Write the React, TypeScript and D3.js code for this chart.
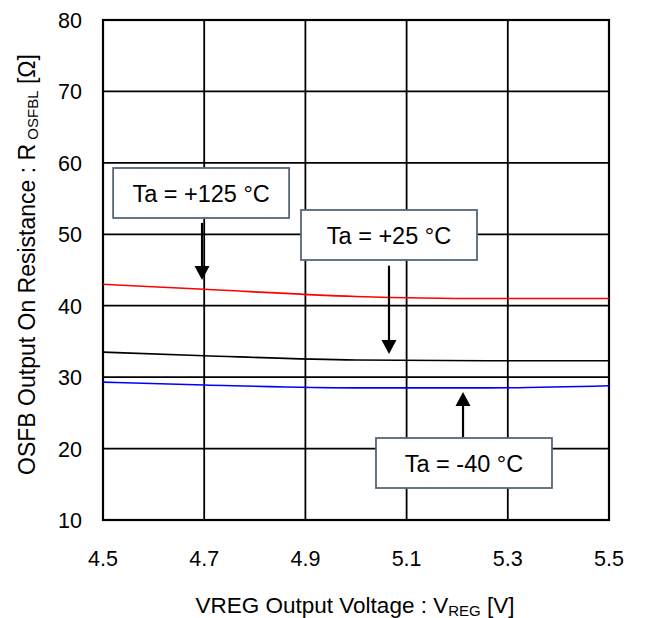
import React from "react";
import * as d3 from "d3";

const xTicks = [4.5, 4.7, 4.9, 5.1, 5.3, 5.5];
const yTicks = [10, 20, 30, 40, 50, 60, 70, 80];

const vreg = [4.5, 4.7, 5.0, 5.26, 5.5];
const r125 = [43.0, 42.3, 41.3, 41.0, 41.0];
const r25 = [33.5, 33.0, 32.4, 32.3, 32.3];
const rm40 = [29.3, 28.9, 28.5, 28.5, 28.8];

const series = [
  { name: "125", values: r125, color: "#ff0000" },
  { name: "25", values: r25, color: "#000000" },
  { name: "-40", values: rm40, color: "#0000ff" },
];

const labels = [
  { text: "Ta = +125 °C", bx: 4.52, by: 59.28, arrowX: 4.6957, from: 51.6, to: 43.6 },
  { text: "Ta = +25 °C", bx: 4.8913, by: 53.4, arrowX: 5.0652, from: 45.6, to: 33.24 },
  { text: "Ta = -40 °C", bx: 5.0395, by: 21.48, arrowX: 5.2115, from: 21.62, to: 27.92 },
];

export default function App() {
  const W = 645, H = 618;
  const m = { left: 103, right: 609, top: 20, bottom: 520 };
  const x = d3.scaleLinear().domain([4.5, 5.5]).range([m.left, m.right]);
  const y = d3.scaleLinear().domain([10, 80]).range([m.bottom, m.top]);
  const line = d3.line<number>().x((_, i) => x(vreg[i])).y((d) => y(d)).curve(d3.curveMonotoneX);
  const font = "Liberation Sans, Arial, sans-serif";
  const boxW = 176, boxH = 50;

  return (
    <svg width={W} height={H} style={{ position: "absolute", left: 0, top: 0 }} fontFamily={font}>
      <rect width={W} height={H} fill="#fff" />
      {yTicks.map((t) => (
        <line key={"h" + t} x1={m.left} x2={m.right} y1={y(t)} y2={y(t)} stroke="#000" strokeWidth={1.8} />
      ))}
      {xTicks.map((t) => (
        <line key={"v" + t} x1={x(t)} x2={x(t)} y1={m.top} y2={m.bottom} stroke="#000" strokeWidth={1.8} />
      ))}
      <rect x={m.left} y={m.top} width={m.right - m.left} height={m.bottom - m.top} fill="none" stroke="#000" strokeWidth={2.2} />
      {series.map((s) => (
        <path key={s.name} d={line(s.values) || ""} fill="none" stroke={s.color} strokeWidth={1.6} />
      ))}
      {labels.map((l) => {
        const bx = x(l.bx), by = y(l.by);
        const ax = x(l.arrowX), y1 = y(l.from), y2 = y(l.to);
        const dir = y2 > y1 ? 1 : -1;
        const headLen = 14, headW = 7.5;
        return (
          <g key={l.text}>
            <rect x={bx} y={by} width={boxW} height={boxH} fill="#fff" stroke="#56657a" strokeWidth={1.8} />
            <text x={bx + boxW / 2} y={by + boxH / 2 + 8.5} textAnchor="middle" fontSize={23.5} fill="#000">{l.text}</text>
            <line x1={ax} x2={ax} y1={y1} y2={y2 - dir * headLen} stroke="#000" strokeWidth={2.2} />
            <path d={`M${ax - headW},${y2 - dir * headLen} L${ax + headW},${y2 - dir * headLen} L${ax},${y2} Z`} fill="#000" />
          </g>
        );
      })}
      {yTicks.map((t) => (
        <text key={"yl" + t} x={82} y={y(t) + 8} textAnchor="end" fontSize={21.5} fill="#000">{t}</text>
      ))}
      {xTicks.map((t) => (
        <text key={"xl" + t} x={x(t)} y={566} textAnchor="middle" fontSize={21.5} fill="#000">{t.toFixed(1)}</text>
      ))}
      <text x={355} y={613} textAnchor="middle" fontSize={22.5} fill="#000">
        VREG Output Voltage : V<tspan fontSize={15} dy={3}>REG</tspan><tspan dy={-3}> [V]</tspan>
      </text>
      <text transform={`translate(35,${264.5}) rotate(-90)`} textAnchor="middle" fontSize={23} fill="#000">
        OSFB Output On Resistance : R<tspan fontSize={15} dy={3}> OSFBL</tspan><tspan dy={-3}> [Ω]</tspan>
      </text>
    </svg>
  );
}
